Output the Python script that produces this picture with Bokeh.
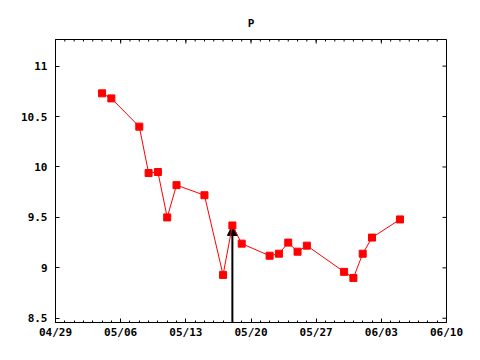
import math
import pandas as pd
from bokeh.plotting import figure
from bokeh.models import (Range1d, FixedTicker, DatetimeTickFormatter, PrintfTickFormatter,
                          Arrow, NormalHead)
from bokeh.embed import file_html
from bokeh.resources import INLINE

YEAR = "2013"
title_text = "P"
dates = ["05/04", "05/05", "05/08", "05/09", "05/10", "05/11", "05/12", "05/15",
         "05/17", "05/18", "05/19", "05/22", "05/23", "05/24", "05/25", "05/26",
         "05/30", "05/31", "06/01", "06/02", "06/05"]
values = [10.73, 10.68, 10.40, 9.94, 9.95, 9.50, 9.82, 9.72,
          8.93, 9.42, 9.24, 9.12, 9.14, 9.25, 9.16, 9.22,
          8.96, 8.90, 9.14, 9.30, 9.48]
x_tick_labels = ["04/29", "05/06", "05/13", "05/20", "05/27", "06/03", "06/10"]
y_ticks = [8.5, 9, 9.5, 10, 10.5, 11]
y_lo, y_hi = 8.458, 11.264
arrow_date = "05/18"


def ms(d):
    return pd.Timestamp(YEAR + "/" + d).timestamp() * 1000.0


x = [pd.Timestamp(YEAR + "/" + d) for d in dates]
major = [ms(d) for d in x_tick_labels]
day = 86400000.0
minor = [major[0] + i * day for i in range(int((major[-1] - major[0]) / day) + 1)]

FONT = "DejaVu Sans Mono"
FS = "11px"

p = figure(width=464, height=344, output_backend="svg", toolbar_location=None,
           x_axis_type="datetime",
           x_range=Range1d(major[0], major[-1]), y_range=Range1d(y_lo, y_hi),
           min_border_left=55, min_border_right=18, min_border_top=39, min_border_bottom=22)

p.title.text = title_text
p.title.align = "center"
p.title.text_font = FONT
p.title.text_font_size = FS
p.title.text_font_style = "bold"
p.title.text_color = "black"
p.title.standoff = 20

p.xgrid.visible = False
p.ygrid.visible = False
p.outline_line_color = "black"
p.outline_line_width = 1
p.background_fill_color = "white"
p.border_fill_color = "white"

xt = FixedTicker(ticks=major, minor_ticks=minor)
fmt = DatetimeTickFormatter(days="%m/%d", months="%m/%d", years="%m/%d", hours="%m/%d",
                            minutes="%m/%d", seconds="%m/%d", milliseconds="%m/%d",
                            microseconds="%m/%d", minsec="%m/%d", hourmin="%m/%d")
yt = FixedTicker(ticks=y_ticks, minor_ticks=[])

xa = p.xaxis[0]
ya = p.yaxis[0]
xa.ticker = xt
xa.formatter = fmt
ya.ticker = yt
ya.formatter = PrintfTickFormatter(format="%g")

xa.major_tick_in = 4
xa.major_tick_out = 0
xa.minor_tick_in = 2
xa.minor_tick_out = 0
xa.minor_tick_line_color = "black"
ya.major_tick_in = 4
ya.major_tick_out = 0
ya.minor_tick_line_color = None

for ax in [xa, ya]:
    ax.axis_line_color = "black"
    ax.major_tick_line_color = "black"
    ax.major_label_text_font = FONT
    ax.major_label_text_font_size = FS
    ax.major_label_text_font_style = "bold"
    ax.major_label_text_color = "black"
xa.major_label_standoff = 3
ya.major_label_standoff = 8

# mirrored ticks on the top and right edges (clipped to the frame, so they point inward)
p.scatter(major, [y_hi] * len(major), marker="dash", size=8, angle=math.pi / 2,
          line_color="black", line_width=1)
p.scatter(minor, [y_hi] * len(minor), marker="dash", size=4, angle=math.pi / 2,
          line_color="black", line_width=1)
p.scatter([major[-1]] * len(y_ticks), y_ticks, marker="dash", size=8,
          line_color="black", line_width=1)

p.line(x, values, line_color="red", line_width=1)
p.scatter(x, values, marker="square", size=7, fill_color="red", line_color="red")

ax_x = ms(arrow_date)
ax_y = values[dates.index(arrow_date)]
arrow = Arrow(end=NormalHead(size=10, fill_color="black", line_color="black"),
              x_start=ax_x, y_start=y_lo, x_end=ax_x, y_end=ax_y,
              line_color="black", line_width=2, level="underlay")
p.add_layout(arrow)

open("out.html", "w").write(file_html(p, INLINE))
